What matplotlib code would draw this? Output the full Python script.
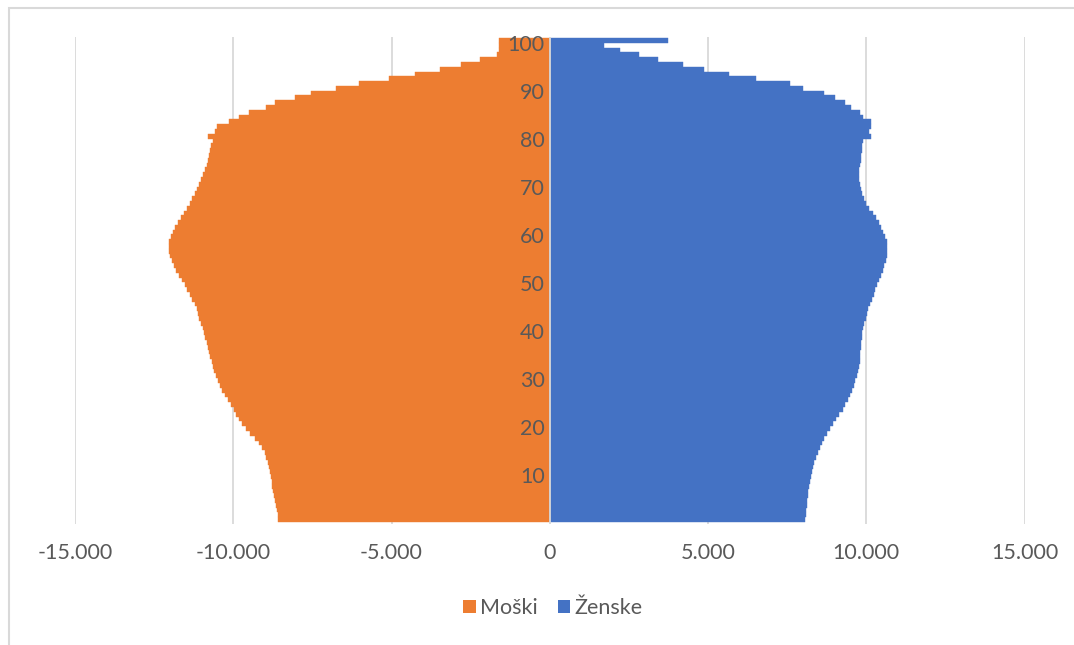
import matplotlib
matplotlib.use("Agg")
import matplotlib.pyplot as plt
from matplotlib.patches import Patch, Rectangle
from matplotlib.ticker import FuncFormatter, MultipleLocator

# Age classes (one bar per year); the top class is the open-ended one
ages = list(range(1, 102))

# Population by single year of age
moski = [
    8580, 8600, 8630, 8650, 8680, 8700, 8730, 8760, 8780, 8800,
    8830, 8860, 8900, 8950, 9010, 9100, 9200, 9320, 9460, 9610,
    9720, 9820, 9900, 9980, 10080, 10180, 10270, 10350, 10430, 10490,
    10550, 10600, 10650, 10680, 10720, 10760, 10800, 10840, 10880, 10920,
    10970, 11020, 11070, 11120, 11160, 11220, 11290, 11370, 11450, 11530,
    11620, 11720, 11800, 11880, 11940, 11990, 12020, 12030, 12020, 11980,
    11910, 11830, 11740, 11650, 11550, 11460, 11380, 11300, 11220, 11160,
    11090, 11020, 10950, 10890, 10840, 10800, 10760, 10720, 10690, 10650,
    10790, 10580, 10500, 10130, 9820, 9500, 8970, 8670, 8040, 7540,
    6760, 6020, 5070, 4260, 3470, 2810, 2190, 1680, 1600, 1600,
    1600,
]

zenske = [
    8080, 8100, 8110, 8130, 8140, 8150, 8170, 8190, 8220, 8250,
    8280, 8310, 8360, 8410, 8470, 8530, 8600, 8680, 8770, 8860,
    8960, 9050, 9150, 9260, 9340, 9420, 9490, 9550, 9600, 9660,
    9720, 9750, 9770, 9790, 9800, 9810, 9820, 9830, 9850, 9880,
    9910, 9940, 9980, 10020, 10060, 10110, 10170, 10230, 10290, 10350,
    10410, 10470, 10520, 10570, 10610, 10640, 10660, 10660, 10640, 10600,
    10540, 10470, 10400, 10310, 10200, 10090, 10000, 9940, 9880, 9820,
    9790, 9770, 9770, 9780, 9800, 9820, 9840, 9860, 9880, 9890,
    10140, 10080, 10160, 10140, 9890, 9790, 9530, 9340, 9010, 8670,
    8000, 7580, 6530, 5670, 4870, 4210, 3420, 2820, 2210, 1700,
    3750,
]

series_labels = ["Moški", "Ženske"]
tick_ages = [10, 20, 30, 40, 50, 60, 70, 80, 90, 100]

ORANGE = "#ED7D31"
BLUE = "#4472C4"
GRID = "#D9D9D9"
TEXT = "#595959"
FONT = "Lato"
FS = 15.5

W, H = 1074, 645
fig = plt.figure(figsize=(W / 100, H / 100), dpi=100)
fig.patch.set_facecolor("white")

left, right, top, bottom = 75, 1024.5, 37, 524
ax = fig.add_axes([left / W, 1 - bottom / H, (right - left) / W, (bottom - top) / H])

pos = list(range(len(ages)))
ax.barh(pos, [-v for v in moski], height=1.0, color=ORANGE,
        edgecolor=ORANGE, linewidth=0.3, zorder=2)
ax.barh(pos, zenske, height=1.0, color=BLUE,
        edgecolor=BLUE, linewidth=0.3, zorder=2)

ax.set_xlim(-15000, 15000)
ax.set_ylim(-0.9, len(ages) - 0.3)

# Vertical gridlines behind the bars
ax.set_axisbelow(True)
ax.xaxis.set_major_locator(MultipleLocator(5000))
ax.grid(axis="x", color=GRID, linewidth=1.3)
ax.grid(axis="y", visible=False)

def thousands(v, _):
    s = f"{abs(int(round(v))):,}".replace(",", ".")
    return ("-" + s) if v < 0 else s

ax.xaxis.set_major_formatter(FuncFormatter(thousands))
ax.tick_params(axis="x", length=0, pad=14, labelsize=FS, labelcolor=TEXT)
for lbl in ax.get_xticklabels():
    lbl.set_fontfamily(FONT)
ax.set_yticks([])
for sp in ax.spines.values():
    sp.set_visible(False)

# Category axis at zero, drawn over the bars
ax.axvline(0, color=GRID, linewidth=1.3, zorder=3)

# Age labels sit just left of the zero line
for a in tick_ages:
    i = ages.index(a)
    ax.annotate(str(a), xy=(0, i), xytext=(-5, 0), textcoords="offset pixels",
                ha="right", va="center", fontsize=FS, color=TEXT,
                family=FONT, zorder=4)

handles = [Patch(facecolor=ORANGE, edgecolor="none"),
           Patch(facecolor=BLUE, edgecolor="none")]
leg = fig.legend(handles, series_labels, loc="center",
                 bbox_to_anchor=(553 / W, 1 - 608 / H), ncol=2, frameon=False,
                 handlelength=0.6, handleheight=0.6, handletextpad=0.2,
                 columnspacing=0.9, prop={"family": FONT, "size": FS})
for t in leg.get_texts():
    t.set_color(TEXT)

# Chart border
fig.add_artist(Rectangle((8.5 / W, -0.2), 1.5, 1.2 - 7.5 / H,
                         transform=fig.transFigure, fill=False,
                         edgecolor=GRID, linewidth=1.5))

fig.savefig("out.png", dpi=100, facecolor="white")
